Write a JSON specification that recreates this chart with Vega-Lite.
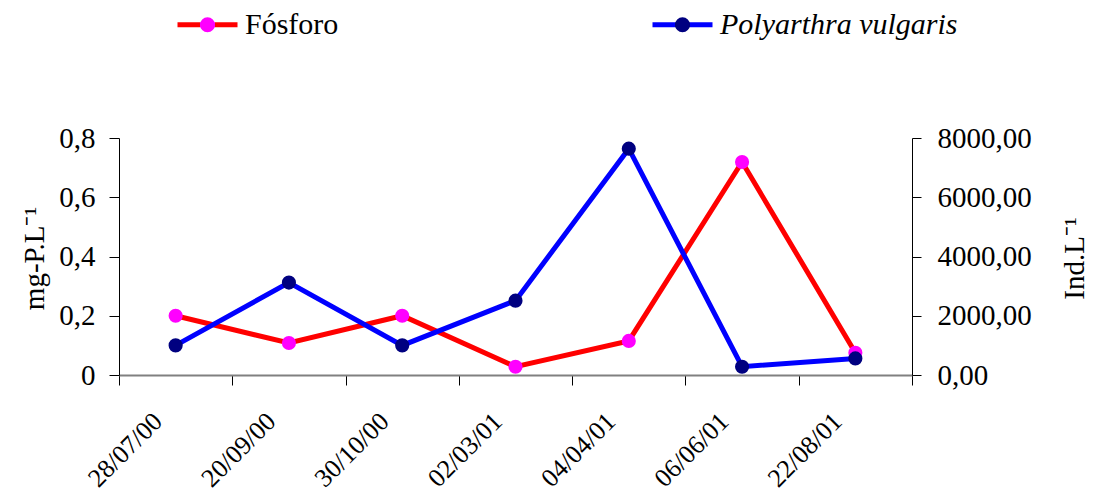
{
  "$schema": "https://vega.github.io/schema/vega-lite/v6.json",
  "width": 793,
  "height": 237,
  "autosize": {"type": "none"},
  "padding": {"left": 119, "top": 138, "right": 191, "bottom": 129},
  "background": "white",
  "config": {
    "font": "Liberation Serif",
    "view": {"stroke": null},
    "axis": {
      "grid": false,
      "labelFont": "Liberation Serif",
      "titleFont": "Liberation Serif",
      "labelFontSize": 29,
      "titleFontSize": 29,
      "titleFontWeight": "normal",
      "labelColor": "#000000",
      "titleColor": "#000000",
      "domainColor": "#000000",
      "tickColor": "#000000",
      "domainWidth": 1,
      "tickWidth": 1,
      "labelOverlap": false,
      "labelBound": false,
      "labelFlush": false
    }
  },
  "data": {
    "values": [
      {"data": "28/07/00", "fosforo": 0.2, "polyarthra": 1000},
      {"data": "20/09/00", "fosforo": 0.108, "polyarthra": 3120},
      {"data": "30/10/00", "fosforo": 0.2, "polyarthra": 1000},
      {"data": "02/03/01", "fosforo": 0.028, "polyarthra": 2510},
      {"data": "04/04/01", "fosforo": 0.115, "polyarthra": 7640},
      {"data": "06/06/01", "fosforo": 0.719, "polyarthra": 280},
      {"data": "22/08/01", "fosforo": 0.075, "polyarthra": 560}
    ]
  },
  "encoding": {
    "x": {
      "field": "data",
      "type": "nominal",
      "sort": null,
      "bandPosition": 0.5,
      "scale": {"type": "band", "paddingInner": 0, "paddingOuter": 0},
      "axis": {
        "title": null,
        "labelAngle": -45,
        "labelAlign": "right",
        "labelBaseline": "middle",
        "tickBand": "extent",
        "tickSize": 10,
        "labelPadding": 32,
        "labelOffset": -18,
        "domainColor": "#808080",
        "domainWidth": 2,
        "labelFontSize": 26
      }
    }
  },
  "layer": [
    {
      "encoding": {
        "y": {
          "field": "fosforo",
          "type": "quantitative",
          "scale": {"domain": [0, 0.8], "nice": false},
          "axis": {
            "orient": "left",
            "values": [0, 0.2, 0.4, 0.6, 0.8],
            "labelExpr": "replace(format(datum.value,'.1~f'),'.',',')",
            "title": "mg-P.L⁻¹",
            "tickSize": 10,
            "labelPadding": 14,
            "titleX": -76,
            "titleY": 120,
            "titleAngle": 270,
            "titleAlign": "center",
            "titleBaseline": "alphabetic"
          }
        }
      },
      "layer": [
        {
          "mark": {"type": "line", "strokeWidth": 5, "color": "#ff0000"}
        },
        {
          "mark": {"type": "point", "filled": true, "size": 200, "opacity": 1},
          "encoding": {
            "fill": {
              "datum": "Fósforo",
              "type": "nominal",
              "scale": {"domain": ["Fósforo", "Polyarthra vulgaris"], "range": ["#ff00ff", "#000080"]},
              "legend": {
                "orient": "none",
                "legendX": 56,
                "legendY": -146,
                "direction": "horizontal",
                "title": null,
                "padding": 0,
                "symbolType": "M-1,0L1,0M-0.167,0A0.167,0.167,0,1,1,0.167,0A0.167,0.167,0,1,1,-0.167,0Z",
                "symbolSize": 3600,
                "symbolStrokeWidth": 5,
                "symbolOpacity": 1,
                "symbolStrokeColor": {"expr": "datum.value === 'Fósforo' ? {gradient:'linear',x1:0,y1:0,x2:1,y2:0,stops:[{offset:0,color:'#ff0000'},{offset:0.375,color:'#ff0000'},{offset:0.375,color:'#ff00ff'},{offset:0.625,color:'#ff00ff'},{offset:0.625,color:'#ff0000'},{offset:1,color:'#ff0000'}]} : {gradient:'linear',x1:0,y1:0,x2:1,y2:0,stops:[{offset:0,color:'#0000ff'},{offset:0.375,color:'#0000ff'},{offset:0.375,color:'#000080'},{offset:0.625,color:'#000080'},{offset:0.625,color:'#0000ff'},{offset:1,color:'#0000ff'}]}"},
                "labelFontSize": 30,
                "labelFont": "Liberation Serif",
                "labelColor": "#000000",
                "labelFontStyle": {"expr": "datum.value === 'Polyarthra vulgaris' ? 'italic' : 'normal'"},
                "labelLimit": 500,
                "labelOffset": 5,
                "columnPadding": 303
              }
            }
          }
        }
      ]
    },
    {
      "encoding": {
        "y": {
          "field": "polyarthra",
          "type": "quantitative",
          "scale": {"domain": [0, 8000], "nice": false},
          "axis": {
            "orient": "right",
            "values": [0, 2000, 4000, 6000, 8000],
            "labelExpr": "replace(format(datum.value,'.2f'),'.',',')",
            "title": "Ind.L⁻¹",
            "tickSize": 9,
            "labelPadding": 16,
            "titleX": 171,
            "titleY": 120,
            "titleAngle": 270,
            "titleAlign": "center",
            "titleBaseline": "alphabetic"
          }
        }
      },
      "layer": [
        {
          "mark": {"type": "line", "strokeWidth": 5, "color": "#0000ff"}
        },
        {
          "mark": {"type": "point", "filled": true, "size": 200, "opacity": 1},
          "encoding": {
            "fill": {"datum": "Polyarthra vulgaris", "type": "nominal"}
          }
        }
      ]
    }
  ],
  "resolve": {"scale": {"y": "independent"}}
}
